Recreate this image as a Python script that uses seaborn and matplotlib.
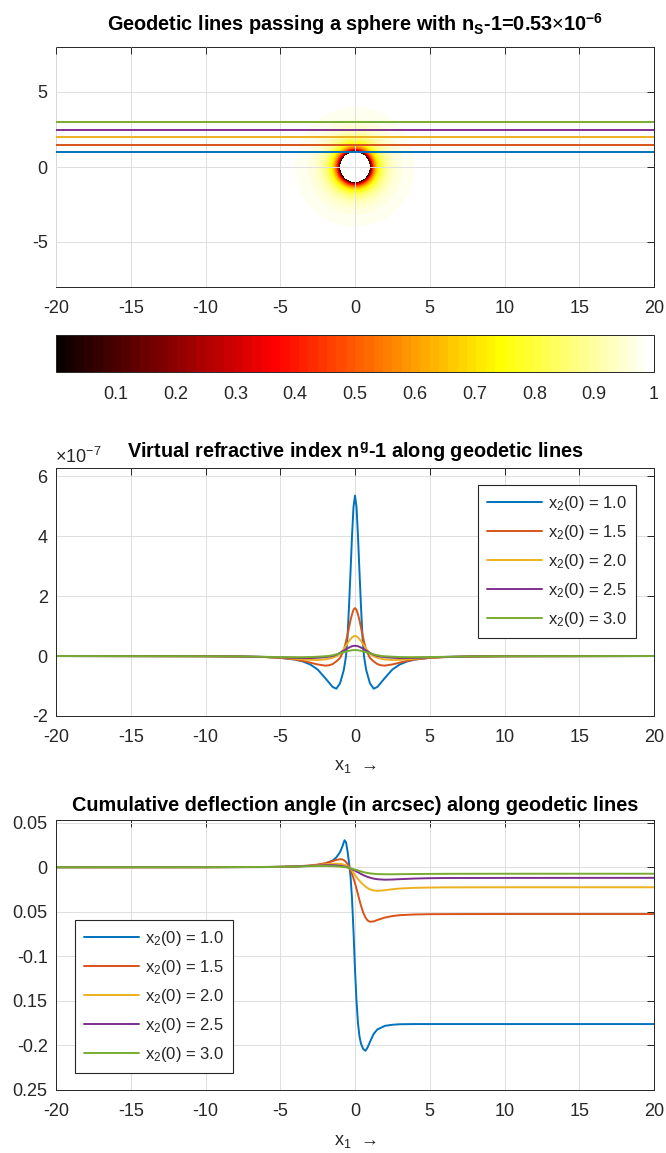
import numpy as np
import pandas as pd
import matplotlib
matplotlib.use("Agg")
import matplotlib as mpl
import matplotlib.pyplot as plt
import seaborn as sns

# ---------------- data ----------------
series_keys = ["1.0", "1.5", "2.0", "2.5", "3.0"]
x2_start = [1.0, 1.5, 2.0, 2.5, 3.0]
legend_labels = ["x$_2$(0) = 1.0", "x$_2$(0) = 1.5", "x$_2$(0) = 2.0",
                 "x$_2$(0) = 2.5", "x$_2$(0) = 3.0"]
line_colors = ["#0072BD", "#D95319", "#EDB120", "#7E2F8E", "#77AC30"]

# top panel: straight geodetic lines and the sphere field (hot colormap)
line_x_ends = [-20, 20]
sphere_radius = 1.0
field_exponent = 3
cbar_ticks = [0.1, 0.2, 0.3, 0.4, 0.5, 0.6, 0.7, 0.8, 0.9, 1.0]
cbar_ticklabels = ["0.1", "0.2", "0.3", "0.4", "0.5", "0.6", "0.7", "0.8", "0.9", "1"]

# middle panel: n^g - 1 (units of 1e-7)
x_ng = [-20, -10, -8, -6, -5, -4, -3.5, -3, -2.5, -2, -1.75, -1.5, -1.25, -1, -0.75,
        -0.6, -0.5, -0.4, -0.3, -0.2, -0.1, 0, 0.1, 0.2, 0.3, 0.4, 0.5, 0.6, 0.75, 1,
        1.25, 1.5, 1.75, 2, 2.5, 3, 3.5, 4, 5, 6, 8, 10, 20]
ng_10 = [0.0, -0.005, -0.01, -0.03, -0.06, -0.12, -0.18, -0.28, -0.45, -0.73, -0.88,
         -1.03, -1.09, -0.91, -0.47, 0.0, 0.65, 1.66, 2.8, 4.0, 4.97,
         5.35,
         4.97, 4.0, 2.8, 1.66, 0.65, 0.0, -0.47, -0.91, -1.09, -1.03, -0.88, -0.73,
         -0.45, -0.28, -0.18, -0.12, -0.06, -0.03, -0.01, -0.005, 0.0]
ng_15 = [0.0, -0.006, -0.015, -0.036, -0.062, -0.115, -0.16, -0.22, -0.28, -0.32, -0.31,
         -0.27, -0.18, -0.065, 0.19, 0.49, 0.71, 0.95, 1.19, 1.39, 1.54,
         1.6,
         1.54, 1.39, 1.19, 0.95, 0.71, 0.49, 0.19, -0.065, -0.18, -0.27, -0.31, -0.32,
         -0.28, -0.22, -0.16, -0.115, -0.062, -0.036, -0.015, -0.006, 0.0]
ng_20 = [0.0, -0.0075, -0.015, -0.035, -0.056, -0.091, -0.11, -0.129, -0.136, -0.114, -0.09,
         -0.06, -0.01, 0.08, 0.24, 0.35, 0.425, 0.50, 0.56, 0.62, 0.656,
         0.67,
         0.656, 0.62, 0.56, 0.50, 0.425, 0.35, 0.24, 0.08, -0.01, -0.06, -0.09, -0.114,
         -0.136, -0.129, -0.11, -0.091, -0.056, -0.035, -0.015, -0.0075, 0.0]
ng_25 = [-0.001, -0.008, -0.015, -0.032, -0.047, -0.063, -0.068, -0.069, -0.058, -0.038, -0.021,
         0.0, 0.042, 0.106, 0.179, 0.227, 0.256, 0.282, 0.307, 0.326, 0.338,
         0.342,
         0.338, 0.326, 0.307, 0.282, 0.256, 0.227, 0.179, 0.106, 0.042, 0.0, -0.021, -0.038,
         -0.058, -0.069, -0.068, -0.063, -0.047, -0.032, -0.015, -0.008, -0.001]
ng_30 = [-0.001, -0.008, -0.014, -0.027, -0.034, -0.04, -0.039, -0.034, -0.023, -0.008, 0.004,
         0.024, 0.056, 0.089, 0.126, 0.148, 0.161, 0.174, 0.184, 0.193, 0.197,
         0.198,
         0.197, 0.193, 0.184, 0.174, 0.161, 0.148, 0.126, 0.089, 0.056, 0.024, 0.004, -0.008,
         -0.023, -0.034, -0.039, -0.04, -0.034, -0.027, -0.014, -0.008, -0.001]
ng_series = [ng_10, ng_15, ng_20, ng_25, ng_30]

# bottom panel: cumulative deflection angle (arcsec)
x_defl = [-20, -10, -6, -5, -4, -3, -2.5, -2, -1.5, -1.25, -1, -0.85, -0.7, -0.6, -0.5,
          -0.4, -0.3, -0.2, -0.1, 0, 0.1, 0.2, 0.3, 0.4, 0.55, 0.7, 0.85, 1, 1.25, 1.5,
          2, 2.5, 3, 4, 5, 6, 10, 20]
defl_10 = [0, 0, 0.0002, 0.0004, 0.0008, 0.0016, 0.0025, 0.004, 0.0075, 0.011,
           0.017, 0.023, 0.0303, 0.028, 0.018, 0.005, -0.01, -0.035, -0.072, -0.115,
           -0.15, -0.175, -0.19, -0.198, -0.204, -0.206, -0.202, -0.196, -0.187, -0.182,
           -0.178, -0.1768, -0.1762, -0.176, -0.176, -0.176, -0.176, -0.176]
defl_15 = [0, 0, 0.0002, 0.0004, 0.0009, 0.002, 0.003, 0.0045, 0.0068, 0.0082,
           0.009, 0.0088, 0.0075, 0.0058, 0.0035, 0.0005, -0.003, -0.0075, -0.0125, -0.018,
           -0.024, -0.0305, -0.037, -0.043, -0.051, -0.0565, -0.0598, -0.0612, -0.0608, -0.0592,
           -0.0565, -0.0548, -0.0538, -0.053, -0.0527, -0.0526, -0.0525, -0.0525]
defl_20 = [0, 0, 0.0002, 0.0004, 0.0008, 0.0016, 0.0024, 0.0032, 0.0038, 0.004,
           0.0038, 0.0034, 0.0027, 0.002, 0.001, -0.0002, -0.0017, -0.0035, -0.0062, -0.009,
           -0.0112, -0.0133, -0.0152, -0.017, -0.0195, -0.0217, -0.0235, -0.0248, -0.0261, -0.0265,
           -0.0258, -0.0247, -0.0239, -0.0231, -0.0228, -0.0226, -0.0225, -0.0225]
defl_25 = [0, 0.0001, 0.0003, 0.0005, 0.0009, 0.0015, 0.0019, 0.0022, 0.0023, 0.0021,
           0.0017, 0.0013, 0.0008, 0.0004, -0.0001, -0.0007, -0.0014, -0.0022, -0.003, -0.0039,
           -0.0048, -0.0057, -0.0066, -0.0075, -0.0088, -0.0099, -0.0109, -0.0117, -0.0128, -0.0135,
           -0.014, -0.0138, -0.0134, -0.0127, -0.0123, -0.0121, -0.012, -0.0119]
defl_30 = [0, 0.0001, 0.0003, 0.0005, 0.0008, 0.0012, 0.0014, 0.0014, 0.0012, 0.001,
           0.0007, 0.0004, 0.0001, -0.0001, -0.0004, -0.0008, -0.0012, -0.0017, -0.0022, -0.0027,
           -0.0032, -0.0037, -0.0042, -0.0047, -0.0054, -0.006, -0.0065, -0.0069, -0.0074, -0.0077,
           -0.0079, -0.0079, -0.0078, -0.0076, -0.0075, -0.0074, -0.0073, -0.0073]
defl_series = [defl_10, defl_15, defl_20, defl_25, defl_30]

x_ticks = [-20, -15, -10, -5, 0, 5, 10, 15, 20]
top_yticks = [-5, 0, 5]
mid_yticks = [-2, 0, 2, 4, 6]
bot_yticks = [-0.25, -0.2, -0.15, -0.1, -0.05, 0, 0.05]
bot_yticklabels = ["0.25", "-0.2", "0.15", "-0.1", "0.05", "0", "0.05"]

# ---------------- style ----------------
sns.set_style("white")
plt.rcParams["font.family"] = ["Liberation Sans", "DejaVu Sans"]
plt.rcParams["mathtext.fontset"] = "custom"
plt.rcParams["mathtext.rm"] = "Liberation Sans"
plt.rcParams["mathtext.it"] = "Liberation Sans:italic"
plt.rcParams["mathtext.bf"] = "Liberation Sans:bold"
plt.rcParams["axes.unicode_minus"] = False

W, H = 666, 1153
fig = plt.figure(figsize=(W / 100, H / 100), dpi=100)
dark = "#262626"
palette = dict(zip(series_keys, line_colors))
TICK_FS = 13
TITLE_FS = 14.3


def fx(px):
    return px / W


def fy(py):
    return 1 - py / H


def style_axes(ax):
    for s in ax.spines.values():
        s.set_color(dark)
        s.set_linewidth(0.7)
        s.set_visible(True)
    ax.tick_params(direction="in", top=True, right=True, length=5, width=0.7,
                   color=dark, labelcolor=dark, labelsize=TICK_FS)
    ax.tick_params(axis="x", pad=9)
    ax.tick_params(axis="y", pad=6)
    ax.grid(True, color="#dedede", lw=0.7)
    ax.set_xlabel("")
    ax.set_ylabel("")


def long_df(x, series):
    frames = [pd.DataFrame({"x1": x, "y": vals, "series": k})
              for k, vals in zip(series_keys, series)]
    return pd.concat(frames, ignore_index=True)


left, right = 56, 654
axw = fx(right - left)
xc = 0.5 * (fx(left) + fx(right))

# ---------- top panel ----------
ax0 = fig.add_axes([fx(left), fy(287), axw, (287 - 47) / H])
gx = np.linspace(-5, 5, 801)
GX, GY = np.meshgrid(gx, gx)
R = np.hypot(GX, GY)
with np.errstate(divide="ignore", invalid="ignore"):
    F = 1 - (sphere_radius / R) ** field_exponent
F = np.ma.masked_where(R < sphere_radius, F)
cmap = mpl.colormaps["hot"].resampled(64)
mesh = ax0.pcolormesh(GX, GY, F, cmap=cmap, vmin=0, vmax=1, shading="auto", zorder=1)

top_df = pd.DataFrame({
    "x1": [xe for _ in x2_start for xe in line_x_ends],
    "x2": [y0 for y0 in x2_start for _ in line_x_ends],
    "series": [k for k in series_keys for _ in line_x_ends],
})
sns.lineplot(data=top_df, x="x1", y="x2", hue="series", hue_order=series_keys,
             palette=palette, lw=1.4, legend=False, ax=ax0, zorder=3, errorbar=None)
ax0.set_xlim(-20, 20)
ax0.set_ylim(-8, 8)
ax0.set_xticks(x_ticks)
ax0.set_yticks(top_yticks)
style_axes(ax0)
ax0.set_axisbelow(False)
fig.text(xc, fy(31),
         r"Geodetic lines passing a sphere with n$_\mathbf{S}$-1=0.53$\times$10$^\mathbf{-6}$",
         ha="center", va="baseline", fontsize=TITLE_FS, fontweight="bold", color="black")

# colorbar
cax = fig.add_axes([fx(left), fy(372), axw, 37 / H])
cb = fig.colorbar(mesh, cax=cax, orientation="horizontal", ticks=cbar_ticks)
cb.ax.set_xticklabels(cbar_ticklabels)
cb.ax.tick_params(direction="in", length=5, width=0.7, color=dark, labelcolor=dark,
                  labelsize=TICK_FS, pad=10)
cb.outline.set_edgecolor(dark)
cb.outline.set_linewidth(0.7)

# ---------- middle panel ----------
ax1 = fig.add_axes([fx(left), fy(716), axw, (716 - 468) / H])
sns.lineplot(data=long_df(x_ng, ng_series), x="x1", y="y", hue="series",
             hue_order=series_keys, palette=palette, lw=1.4, legend=False, ax=ax1,
             errorbar=None)
ax1.set_xlim(-20, 20)
ax1.set_ylim(-2, 6.27)
ax1.set_xticks(x_ticks)
ax1.set_yticks(mid_yticks)
style_axes(ax1)
leg1 = ax1.legend(ax1.get_lines()[:5], legend_labels, loc="upper right",
                  bbox_to_anchor=(0.970, 0.9315), borderaxespad=0, fontsize=12,
                  handlelength=3.3, handletextpad=0.35, labelspacing=0.6,
                  borderpad=0.55, fancybox=False, framealpha=1)
leg1.get_frame().set_edgecolor(dark)
leg1.get_frame().set_linewidth(0.8)
fig.text(xc, fy(458),
         r"Virtual refractive index n$^\mathbf{g}$-1 along geodetic lines",
         ha="center", va="baseline", fontsize=TITLE_FS, fontweight="bold", color="black")
fig.text(fx(55), fy(463), r"$\times$10$^{-7}$", ha="left", va="baseline",
         fontsize=13, color=dark)
fig.text(fx(355), fy(770), "x$_1$  →", ha="center", va="baseline", fontsize=13, color=dark)

# ---------- bottom panel ----------
ax2 = fig.add_axes([fx(left), fy(1090), axw, (1090 - 820) / H])
sns.lineplot(data=long_df(x_defl, defl_series), x="x1", y="y", hue="series",
             hue_order=series_keys, palette=palette, lw=1.4, legend=False, ax=ax2,
             errorbar=None)
ax2.set_xlim(-20, 20)
ax2.set_ylim(-0.25, 0.053)
ax2.set_xticks(x_ticks)
ax2.set_yticks(bot_yticks)
ax2.set_yticklabels(bot_yticklabels)
style_axes(ax2)
leg2 = ax2.legend(ax2.get_lines()[:5], legend_labels, loc="lower left",
                  bbox_to_anchor=(0.0318, 0.063), borderaxespad=0, fontsize=12,
                  handlelength=3.3, handletextpad=0.35, labelspacing=0.6,
                  borderpad=0.55, fancybox=False, framealpha=1)
leg2.get_frame().set_edgecolor(dark)
leg2.get_frame().set_linewidth(0.8)
fig.text(xc, fy(811),
         "Cumulative deflection angle (in arcsec) along geodetic lines",
         ha="center", va="baseline", fontsize=TITLE_FS, fontweight="bold", color="black")
fig.text(fx(355), fy(1145), "x$_1$  →", ha="center", va="baseline", fontsize=13, color=dark)

fig.savefig("out.png", dpi=100)
